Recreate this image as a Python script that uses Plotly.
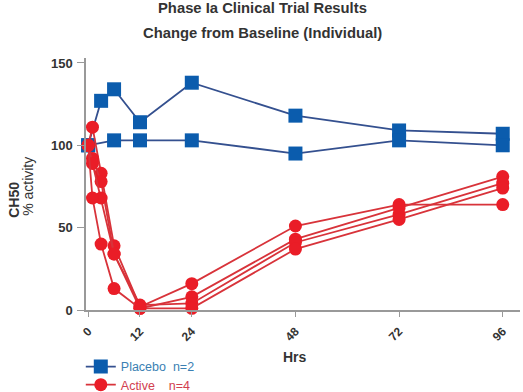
import plotly.graph_objects as go

# ---- data ----
placebo_a_t = [0, 3, 6, 12, 24, 48, 72, 96]
placebo_a_v = [100, 127, 134, 114, 138, 118, 109, 107]
placebo_b_t = [0, 6, 12, 24, 48, 72, 96]
placebo_b_v = [100, 103, 103, 103, 95, 103, 100]

active_t = [0, 1, 3, 6, 12, 24, 48, 72, 96]
active_1 = [100, 111, 83, 39, 2, 16, 51, 64, 64]
active_2 = [100, 92, 78, 34, 1, 8, 43, 62, 81]
active_3 = [100, 89, 68, 34, 3, 4, 41, 58, 77]
active_4 = [100, 68, 40, 13, 1, 1, 37, 55, 74]

x_ticks = [0, 12, 24, 48, 72, 96]
y_ticks = [0, 50, 100, 150]

BLUE_M = "#0b5cad"
BLUE_L = "#34508f"
RED_M = "#ea1d27"
RED_L = "#d8333a"
FONT = "Liberation Sans"

fig = go.Figure()

for i, (t, v) in enumerate([(placebo_a_t, placebo_a_v), (placebo_b_t, placebo_b_v)]):
    fig.add_trace(go.Scatter(
        x=t, y=v, mode="lines+markers",
        line=dict(color=BLUE_L, width=1.8),
        marker=dict(symbol="square", size=14, color=BLUE_M),
        name="<span style='color:#3b7fb3'>Placebo  n=2</span>",
        legendgroup="p", showlegend=(i == 0), cliponaxis=False, legend="legend",
    ))

for i, v in enumerate([active_1, active_2, active_3, active_4]):
    fig.add_trace(go.Scatter(
        x=active_t, y=v, mode="lines+markers",
        line=dict(color=RED_L, width=1.8),
        marker=dict(symbol="circle", size=13, color=RED_M),
        name="<span style='color:#d2404f'>Active    n=4</span>",
        legendgroup="a", showlegend=(i == 0), cliponaxis=False, legend="legend2",
    ))

ann_font = dict(family=FONT, color="#333333")
leg_common = dict(x=-0.012, xanchor="left", yanchor="middle",
                  font=dict(size=12.5, family=FONT), bgcolor="rgba(0,0,0,0)")

fig.update_layout(
    width=523, height=392,
    margin=dict(l=86, r=3, t=58, b=82, autoexpand=False),
    plot_bgcolor="white", paper_bgcolor="white",
    font=dict(family=FONT, color="#333333"),
    showlegend=True,
    legend=dict(y=-0.226, **leg_common),
    legend2=dict(y=-0.298, **leg_common),
    xaxis=dict(range=[-0.5, 100], tickvals=x_ticks, ticktext=[str(t) for t in x_ticks],
               tickangle=-45, showgrid=False, zeroline=False, automargin=False,
               showline=True, linecolor="#999999", linewidth=1.5,
               ticks="outside", ticklen=5, tickcolor="#999999", ticklabelstandoff=3,
               tickfont=dict(size=12, family=FONT, weight="bold", color="#333333")),
    yaxis=dict(range=[0, 153], tickvals=y_ticks, showgrid=False, zeroline=False,
               automargin=False,
               showline=True, linecolor="#999999", linewidth=1.5,
               ticks="outside", ticklen=7, tickcolor="#999999", ticklabelstandoff=2,
               tickfont=dict(size=13, family=FONT, weight="bold", color="#333333")),
    annotations=[
        dict(text="<b>Phase Ia Clinical Trial Results</b>", x=0.406, y=1.198,
             xref="paper", yref="paper", showarrow=False, xanchor="center", yanchor="middle",
             font=dict(size=14.8, **ann_font)),
        dict(text="<b>Change from Baseline (Individual)</b>", x=0.406, y=1.099,
             xref="paper", yref="paper", showarrow=False, xanchor="center", yanchor="middle",
             font=dict(size=14.8, **ann_font)),
        dict(text="<b>CH50</b>", x=-0.166, y=0.437, textangle=-90,
             xref="paper", yref="paper", showarrow=False, xanchor="center", yanchor="middle",
             font=dict(size=14, **ann_font)),
        dict(text="% activity", x=-0.134, y=0.492, textangle=-90,
             xref="paper", yref="paper", showarrow=False, xanchor="center", yanchor="middle",
             font=dict(size=14, **ann_font)),
        dict(text="<b>Hrs</b>", x=0.481, y=-0.187,
             xref="paper", yref="paper", showarrow=False, xanchor="center", yanchor="middle",
             font=dict(size=14, **ann_font)),
    ],
)

fig.write_html("out.html", config={"displayModeBar": False},
               post_script="document.body.style.margin='0';document.body.style.overflow='hidden';")
